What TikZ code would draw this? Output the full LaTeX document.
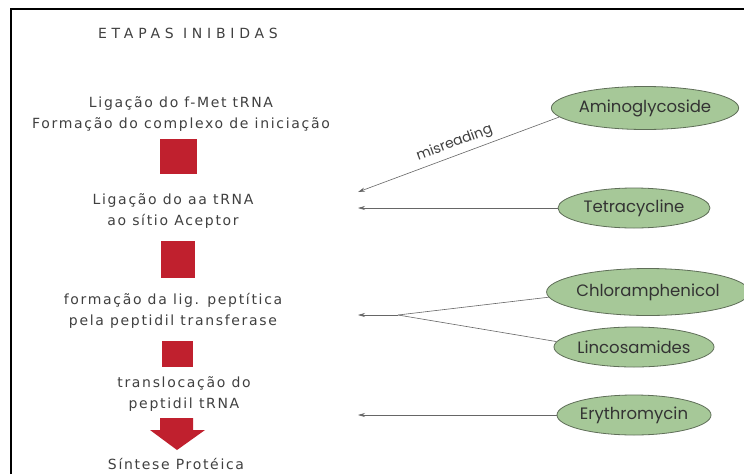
\documentclass[tikz,border=0pt]{standalone}
\usepackage{fontspec}
\setmainfont{DejaVu Sans}
\newfontfamily\stepfont[LetterSpace=12]{DejaVu Sans}
\newfontfamily\titlefont[LetterSpace=34]{DejaVu Sans}
\newfontfamily\pillfont{Poppins}
\usetikzlibrary{arrows.meta,shapes.geometric}
\definecolor{stepgray}{HTML}{404040}
\definecolor{pillgreen}{HTML}{A6C898}
\definecolor{pillline}{HTML}{5F6E58}
\definecolor{boxred}{HTML}{C0202E}
\tikzset{
  steptext/.style={text=stepgray, font=\stepfont\fontsize{14}{21}\selectfont, align=center, inner sep=0pt},
  drug/.style={ellipse, fill=pillgreen, draw=pillline, line width=0.8pt, inner sep=0pt, text=black!80, font=\pillfont\fontsize{16.5}{18}\selectfont},
  redbox/.style={fill=boxred, draw=none, inner sep=0pt},
  link/.style={draw=black!60, line width=0.6pt, -{Stealth[length=7pt,width=4pt]}},
  plainlink/.style={draw=black!60, line width=0.6pt},
}
\begin{document}
\begin{tikzpicture}[x=1pt,y=-1pt]
\useasboundingbox (0,0) rectangle (744,474);
\fill[white] (0,0) rectangle (744,474);
\draw[line width=2pt] (11,474) -- (11,9) -- (744,9);

\node[text=stepgray, font=\titlefont\fontsize{14}{16}\selectfont, inner sep=0pt] (title) at (188,33) {ETAPAS INIBIDAS};
\node[steptext] (s1) at (181,114) {Ligação do f-Met tRNA\\Formação do complexo de iniciação};
\node[redbox, minimum width=37pt, minimum height=35pt] (b1) at (178.5,156.5) {};
\node[steptext] (s2) at (173,211) {Ligação do aa tRNA\\ao sítio Aceptor};
\node[redbox, minimum width=34pt, minimum height=37pt] (b2) at (178,259.5) {};
\node[steptext] (s3) at (173,311) {formação da lig. peptítica\\pela peptidil transferase};
\node[redbox, minimum width=31pt, minimum height=26pt] (b3) at (177.5,354) {};
\node[steptext] (s4) at (184,394) {translocação do\\peptidil tRNA};
\fill[boxred] (160,418) -- (193,418) -- (193,430) -- (205,430) -- (177,450) -- (150,430) -- (160,430) -- cycle;
\node[steptext] (s5) at (176,464) {Síntese Protéica};

\node[drug, minimum width=175pt, minimum height=43pt] (amino) at (645,108) {Aminoglycoside};
\node[drug, minimum width=152pt, minimum height=40pt] (tetra) at (634,208) {Tetracycline};
\node[drug, minimum width=189pt, minimum height=47pt] (chlor) at (648,292) {Chloramphenicol};
\node[drug, minimum width=154pt, minimum height=40pt] (linco) at (634,347) {Lincosamides};
\node[drug, minimum width=154pt, minimum height=40pt] (eryth) at (634,415) {Erythromycin};

\coordinate (t1) at (358,192);
\coordinate (t2) at (358,208);
\coordinate (t3) at (358,315);
\coordinate (m3) at (398,315);
\coordinate (t4) at (358,415);

\draw[link] (amino.186) -- (t1) node[pos=0.5, sloped, above=1pt, text=stepgray, font=\pillfont\fontsize{14}{16}\selectfont] {misreading};
\draw[link] (tetra.west) -- (t2);
\draw[plainlink] (chlor.183) -- (m3);
\draw[plainlink] (linco.176) -- (m3);
\draw[link] (m3) -- (t3);
\draw[link] (eryth.west) -- (t4);
\end{tikzpicture}
\end{document}
